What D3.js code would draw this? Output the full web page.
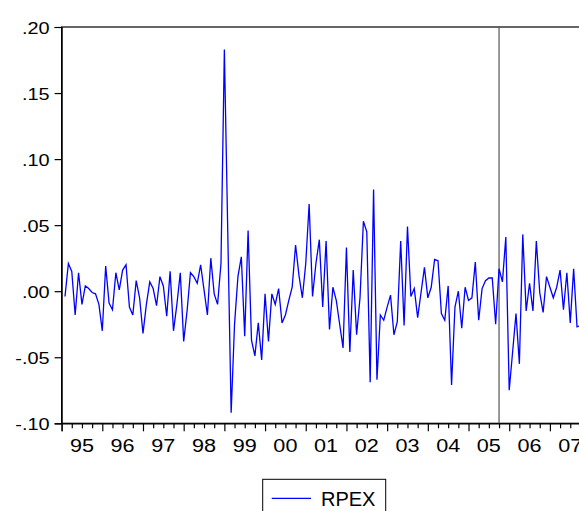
<!DOCTYPE html>
<html>
<head>
<meta charset="utf-8">
<script src="https://cdn.jsdelivr.net/npm/d3@7"></script>
<style>
body { margin: 0; background: #fff; }
svg { display: block; font-family: "Liberation Sans", Arial, sans-serif; }
</style>
</head>
<body>
<div id="chart"></div>
<script>
// monthly series, first observation 1995M2
var seriesName = "RPEX";
var startYear = 1995, startMonth = 2;
var rpex = [
 -0.004, 0.021, 0.015,-0.018, 0.014,-0.010, 0.004, 0.002,-0.001,-0.002,-0.010,-0.030,
  0.019,-0.009,-0.014, 0.014, 0.001, 0.016, 0.020,-0.012,-0.018, 0.008,-0.005,-0.032,
 -0.010, 0.007, 0.002,-0.011, 0.011, 0.004,-0.019, 0.015,-0.030,-0.010, 0.014,-0.038,
 -0.015, 0.014, 0.011, 0.006, 0.020, 0.001,-0.018, 0.025,-0.002,-0.010, 0.021, 0.183,
  0.045,-0.092,-0.025, 0.011, 0.026,-0.034, 0.046,-0.037,-0.049,-0.024,-0.052,-0.002,
 -0.038,-0.002,-0.010, 0.002,-0.024,-0.018,-0.007, 0.003, 0.035, 0.012,-0.005, 0.021,
  0.066,-0.004, 0.021, 0.039,-0.012, 0.038,-0.029, 0.003,-0.007,-0.025,-0.043, 0.033,
 -0.046, 0.016,-0.033,-0.005, 0.053, 0.045,-0.069, 0.077,-0.067,-0.018,-0.022,-0.012,
 -0.003,-0.033,-0.023, 0.038,-0.026, 0.049,-0.004, 0.002,-0.020,-0.001, 0.018,-0.005,
  0.003, 0.024, 0.023,-0.017,-0.022, 0.004,-0.071,-0.012, 0.000,-0.028, 0.003,-0.007,
 -0.005, 0.022,-0.022, 0.002, 0.008, 0.010, 0.010,-0.025, 0.017, 0.007, 0.041,-0.075,
 -0.046,-0.017,-0.055, 0.043,-0.015, 0.006,-0.015, 0.038,-0.001,-0.016, 0.011, 0.003,
 -0.005, 0.003, 0.016,-0.014, 0.014,-0.024, 0.017,-0.027,-0.026
];
var yearLabels = ["95","96","97","98","99","00","01","02","03","04","05","06","07"];
var yTickValues = [0.20, 0.15, 0.10, 0.05, 0.00, -0.05, -0.10];
var yTickLabels = [".20", ".15", ".10", ".05", ".00", "-.05", "-.10"];
var markerDate = "2005-10"; // vertical line

var W = 579, H = 511;
var svg = d3.select("#chart").append("svg")
	.attr("width", W)
	.attr("height", H);

// month index counted from 1995M1
var nMonths = yearLabels.length * 12;
var x = d3.scaleLinear().domain([0, nMonths]).range([61.6, 61.6 + nMonths * 3.391]);
var y = d3.scaleLinear().domain([-0.10, 0.20]).range([423.3, 27]);

var data = rpex.map(function (v, i) {
	return { m: (startMonth - 1) + i, v: v };
});

function stretch(sel, k) {
	sel.each(function () {
		var w = this.getComputedTextLength();
		d3.select(this).attr("textLength", w * k).attr("lengthAdjust", "spacingAndGlyphs");
	});
}

// frame
svg.append("rect")
	.attr("x", x(0))
	.attr("y", y(0.20))
	.attr("width", x(nMonths) - x(0))
	.attr("height", y(-0.10) - y(0.20))
	.attr("fill", "none")
	.attr("stroke", "#000")
	.attr("stroke-width", 1.2);

// y axis
var yAxis = svg.append("g")
	.attr("transform", "translate(" + x(0) + ",0)")
	.call(d3.axisLeft(y).tickValues(yTickValues).tickSize(7).tickPadding(5)
		.tickFormat(function (d, i) { return yTickLabels[i]; }));
yAxis.select(".domain").attr("stroke", "#000").attr("stroke-width", 1.2);
yAxis.selectAll(".tick line").attr("stroke", "#000").attr("stroke-width", 1.2);
yAxis.selectAll(".tick text")
	.attr("font-size", 17)
	.attr("font-family", "Liberation Sans, Arial, sans-serif")
	.attr("fill", "#000")
	.attr("dy", "6")
	.attr("x", -12);
stretch(yAxis.selectAll(".tick text"), 1.17);

// x axis: quarter ticks, longer year ticks, labels mid-year
var quarterTicks = d3.range(0, nMonths + 1, 3);
var xAxisMinor = svg.append("g")
	.attr("transform", "translate(0," + y(-0.10) + ")")
	.call(d3.axisBottom(x).tickValues(quarterTicks.filter(function (d) { return d % 12 != 0; }))
		.tickSize(5).tickFormat(""));
xAxisMinor.select(".domain").remove();
xAxisMinor.selectAll(".tick line").attr("stroke", "#000").attr("stroke-width", 1.2);

var xAxisMajor = svg.append("g")
	.attr("transform", "translate(0," + y(-0.10) + ")")
	.call(d3.axisBottom(x).tickValues(d3.range(0, nMonths + 1, 12)).tickSize(8).tickFormat(""));
xAxisMajor.select(".domain").attr("stroke", "#000").attr("stroke-width", 1.2);
xAxisMajor.selectAll(".tick line").attr("stroke", "#000").attr("stroke-width", 1.2);

var xl = svg.append("g").selectAll("text")
	.data(yearLabels)
	.enter().append("text")
		.attr("x", function (d, i) { return x(i * 12 + 6); })
		.attr("y", 452)
		.attr("text-anchor", "middle")
		.attr("font-size", 18)
		.attr("fill", "#000")
		.text(function (d) { return d; });
stretch(xl, 1.2);

// vertical marker line
var mParts = markerDate.split("-");
var mIdx = (+mParts[0] - startYear) * 12 + (+mParts[1] - 1);
svg.append("line")
	.attr("x1", x(mIdx)).attr("x2", x(mIdx))
	.attr("y1", y(0.20)).attr("y2", y(-0.10))
	.attr("stroke", "#555")
	.attr("stroke-width", 1.2);

// series
var line = d3.line()
	.x(function (d) { return x(d.m); })
	.y(function (d) { return y(d.v); });
svg.append("path")
	.datum(data)
	.attr("d", line)
	.attr("fill", "none")
	.attr("stroke", "#0000ff")
	.attr("stroke-width", 1.3)
	.attr("stroke-linejoin", "miter");

// legend
var lg = svg.append("g");
lg.append("rect")
	.attr("x", 262.7).attr("y", 479.3)
	.attr("width", 123).attr("height", 50)
	.attr("fill", "#fff")
	.attr("stroke", "#000")
	.attr("stroke-width", 1);
lg.append("line")
	.attr("x1", 271.7).attr("x2", 311)
	.attr("y1", 498.3).attr("y2", 498.3)
	.attr("stroke", "#0000ff")
	.attr("stroke-width", 1.3);
lg.append("text")
	.attr("x", 321).attr("y", 505.7)
	.attr("font-size", 20)
	.attr("fill", "#000")
	.text(seriesName);
</script>
</body>
</html>
